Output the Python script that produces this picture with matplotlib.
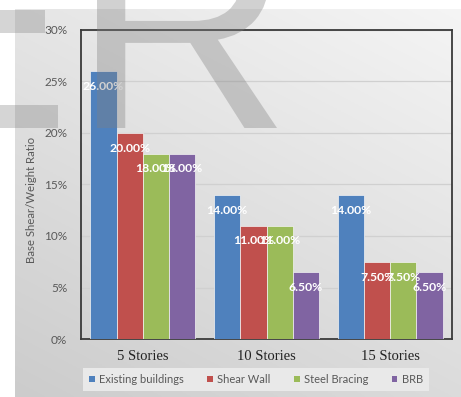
import numpy as np
import matplotlib
matplotlib.use("Agg")
import matplotlib.pyplot as plt
from matplotlib.patches import Rectangle, PathPatch, Patch
from matplotlib.textpath import TextPath
from matplotlib.font_manager import FontProperties
from matplotlib.transforms import Affine2D

# chart values (percent of weight)
stories = ["5 Stories", "10 Stories", "15 Stories"]
series = ["Existing buildings", "Shear Wall", "Steel Bracing", "BRB"]
existing = [26.0, 14.0, 14.0]
shear_wall = [20.0, 11.0, 7.5]
steel_bracing = [18.0, 11.0, 7.5]
brb = [18.0, 6.5, 6.5]
yticks = [0, 5, 10, 15, 20, 25, 30]

colors = ["#4F81BD", "#C0504D", "#9BBB59", "#8064A2"]

W, H = 461, 397
fig = plt.figure(figsize=(W / 100, H / 100), dpi=100)
fig.patch.set_facecolor("white")

# grey gradient panel behind the chart
bg = fig.add_axes([15 / W, 0, 1 - 15 / W, (H - 9) / H], zorder=-10)
u = np.linspace(0, 1, 200)[None, :]
v = np.linspace(0, 1, 200)[:, None]
grad = 0.80 + 0.06 * u + 0.10 * v
bg.imshow(np.dstack([grad] * 3), aspect="auto", origin="lower", extent=[0, 1, 0, 1])
bg.axis("off")

ax = fig.add_axes([81 / W, 1 - 339 / H, 371 / W, 309 / H])
ax.set_facecolor("none")

x = np.arange(len(stories))
width = 0.2125
all_vals = [existing, shear_wall, steel_bracing, brb]
for i, (vals, c) in enumerate(zip(all_vals, colors)):
    pos = x + (i - 1.5) * width
    ax.bar(pos, vals, width, color=c, edgecolor="#f4f4f4", linewidth=0.5, zorder=3)
    for px, val in zip(pos, vals):
        ax.annotate(f"{val:.2f}%", (px, val), xytext=(0, -11), textcoords="offset points",
                    ha="center", va="center", color="white", fontsize=8.8,
                    fontweight="bold", family="Lato", zorder=5)

ax.set_xlim(-0.5, 2.5)
ax.set_ylim(0, 30)
ax.set_yticks(yticks)
ax.set_yticklabels([f"{t}%" for t in yticks], family="Lato", fontsize=8.5, color="#595959")
ax.set_xticks(x)
ax.set_xticklabels(stories, family="Liberation Serif", fontsize=10.5, color="#222222")
ax.tick_params(axis="both", length=0)
ax.tick_params(axis="x", pad=8)
ax.tick_params(axis="y", pad=10)
ax.grid(axis="y", color="#d0d0d0", linewidth=0.9, zorder=0)
for s in ax.spines.values():
    s.set_color("#3a3a3a")
    s.set_linewidth(1.3)
    s.set_zorder(2)

ax.set_ylabel("Base Shear/Weight Ratio", family="Lato", fontsize=8.2, color="#595959")
ax.yaxis.set_label_coords(-0.118, 0.45)

handles = [Patch(facecolor=c, edgecolor="none") for c in colors]
leg = fig.legend(handles, series, loc="center", bbox_to_anchor=(256 / W, 1 - 379.5 / H),
                 ncol=4, frameon=True, fancybox=False, handlelength=0.5, handleheight=0.5,
                 handletextpad=0.4, columnspacing=2.1, borderpad=0.55,
                 prop={"family": "Lato", "size": 8})
leg.get_frame().set_facecolor("#e9e9e9")
leg.get_frame().set_edgecolor("none")
leg.get_frame().set_alpha(1)
for t in leg.get_texts():
    t.set_color("#595959")

# watermark pieces on top
wm = "#808080"
fig.add_artist(Rectangle((0, 1 - 33 / H), 45 / W, 23 / H, transform=fig.transFigure,
                         facecolor=wm, alpha=0.33, edgecolor="none", zorder=20))
fig.add_artist(Rectangle((0, 1 - 128 / H), 58 / W, 23 / H, transform=fig.transFigure,
                         facecolor=wm, alpha=0.33, edgecolor="none", zorder=20))

tp = TextPath((0, 0), "R", size=1, prop=FontProperties(family="Liberation Sans"))
ext = tp.get_extents()
tr = (Affine2D().translate(-ext.x0, -ext.y0)
      .scale(180 / W / ext.width, 205 / H / ext.height)
      .translate(97 / W, 1 - 128 / H) + fig.transFigure)
fig.add_artist(PathPatch(tp, transform=tr, facecolor=wm, alpha=0.36, edgecolor="none",
                         zorder=20))

fig.savefig("out.png", dpi=100)
